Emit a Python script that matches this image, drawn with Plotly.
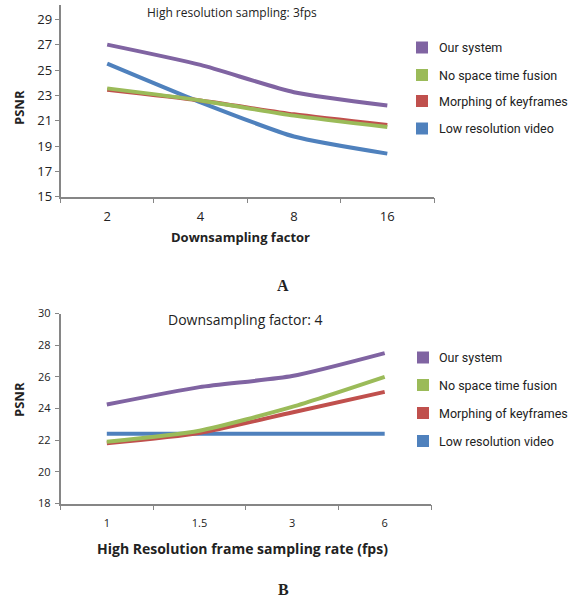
import plotly.graph_objects as go

# ---- data ----
series_names = ["Our system", "No space time fusion", "Morphing of keyframes", "Low resolution video"]
series_colors = ["#8064A2", "#9BBB59", "#C0504D", "#4F81BD"]

a_categories = ["2", "4", "8", "16"]
a_our = [27.0, 25.4, 23.25, 22.2]
a_nofusion = [23.55, 22.6, 21.4, 20.5]
a_morph = [23.45, 22.6, 21.5, 20.65]
a_lowres = [25.5, 22.45, 19.75, 18.4]
a_yticks = [15, 17, 19, 21, 23, 25, 27, 29]

b_categories = ["1", "1.5", "3", "6"]
b_our = [24.25, 25.35, 26.05, 27.5]
b_nofusion = [21.9, 22.6, 24.1, 26.0]
b_morph = [21.8, 22.45, 23.75, 25.05]
b_lowres = [22.4, 22.4, 22.4, 22.4]
b_yticks = [18, 20, 22, 24, 26, 28, 30]

W, H = 577, 598
def px(x):
    return x / W
def py(y):
    return 1 - y / H

fig = go.Figure()

draw_order = [3, 2, 1, 0]
a_vals = [a_our, a_nofusion, a_morph, a_lowres]
b_vals = [b_our, b_nofusion, b_morph, b_lowres]

for i in draw_order:
    fig.add_trace(go.Scatter(x=a_categories, y=a_vals[i], mode="lines", name=series_names[i],
                             line=dict(color=series_colors[i], width=4, shape="spline", smoothing=0.6),
                             xaxis="x", yaxis="y", showlegend=False, hoverinfo="skip"))
    fig.add_trace(go.Scatter(x=b_categories, y=b_vals[i], mode="lines", name=series_names[i],
                             line=dict(color=series_colors[i], width=4, shape="spline", smoothing=0.6),
                             xaxis="x2", yaxis="y2", showlegend=False, hoverinfo="skip"))

tick_font_a = dict(family="Open Sans, sans-serif", size=13, color="#222")
tick_font_b = dict(family="Open Sans, sans-serif", size=11, color="#222")
axis_col = "#868686"

common_x = dict(type="category", range=[-0.5, 3.5], showline=True, linecolor=axis_col, linewidth=1.5,
                ticks="outside", tickson="boundaries", ticklen=5, tickcolor=axis_col, showgrid=False,
                zeroline=False, automargin=False, fixedrange=True)
common_y = dict(showline=True, linecolor=axis_col, linewidth=1.5, ticks="outside", ticklen=4,
                tickcolor=axis_col, showgrid=False, zeroline=False, automargin=False, fixedrange=True)

fig.update_layout(
    width=W, height=H,
    margin=dict(l=0, r=0, t=0, b=0, autoexpand=False),
    paper_bgcolor="white", plot_bgcolor="white",
    showlegend=False,
    xaxis=dict(common_x, domain=[px(60.5), px(434)], tickfont=tick_font_a, anchor="y",
               ticklabelstandoff=7),
    yaxis=dict(common_y, domain=[py(196.7), py(5)], range=[15, 30.13], tickvals=a_yticks,
               tickfont=tick_font_a, anchor="x"),
    xaxis2=dict(common_x, domain=[px(60.5), px(431)], tickfont=tick_font_b, anchor="y2",
                ticklabelstandoff=9),
    yaxis2=dict(common_y, domain=[py(503.5), py(313.5)], range=[18, 30], tickvals=b_yticks,
                tickfont=tick_font_b, anchor="x2", ticklabelstandoff=2),
)

# legend swatches and labels (custom, beside each chart)
leg_font = dict(family="Roboto, sans-serif", size=12.5, color="#222")
legend_a_y = [47.5, 75, 101, 128.5]
legend_b_y = [357.5, 385, 413, 441]
shapes = []
anns = []
for ys, sq_x in ((legend_a_y, 416), (legend_b_y, 417)):
    for i, name in enumerate(series_names):
        yc = ys[i]
        shapes.append(dict(type="rect", xref="paper", yref="paper",
                           x0=px(sq_x), x1=px(sq_x + 12), y0=py(yc + 6), y1=py(yc - 6),
                           fillcolor=series_colors[i], line=dict(width=0)))
        anns.append(dict(text=name, x=px(437), y=py(yc), xanchor="left", yanchor="middle",
                         font=leg_font))

ann_font_a = dict(family="Open Sans, sans-serif", size=12, color="#222")
ann_font_b = dict(family="Open Sans, sans-serif", size=14, color="#222")
bold_a = dict(family="Open Sans, sans-serif", size=13, color="#222", weight="bold")
bold_b = dict(family="Open Sans, sans-serif", size=14, color="#222", weight="bold")
serif_font = dict(family="Liberation Serif, DejaVu Serif, serif", size=16, color="#222", weight="bold")

anns += [
    dict(text="High resolution sampling: 3fps", x=px(232), y=py(13), font=ann_font_a),
    dict(text="Downsampling factor: 4", x=px(245), y=py(319), font=ann_font_b),
    dict(text="Downsampling factor", x=px(240), y=py(237), font=bold_a),
    dict(text="High Resolution frame sampling rate (fps)", x=px(242), y=py(548), font=bold_b),
    dict(text="PSNR", x=px(19), y=py(108), font=bold_a, textangle=-90),
    dict(text="PSNR", x=px(19), y=py(400), font=bold_a, textangle=-90),
    dict(text="A", x=px(283), y=py(285), font=serif_font),
    dict(text="B", x=px(283), y=py(589), font=serif_font),
]
for a in anns:
    a.setdefault("xanchor", "center")
    a.setdefault("yanchor", "middle")
    a.update(xref="paper", yref="paper", showarrow=False)
fig.update_layout(annotations=anns, shapes=shapes)

fig.write_html("out.html", config={"displayModeBar": False},
               post_script="document.body.style.margin='0px';document.body.style.padding='0px';")
